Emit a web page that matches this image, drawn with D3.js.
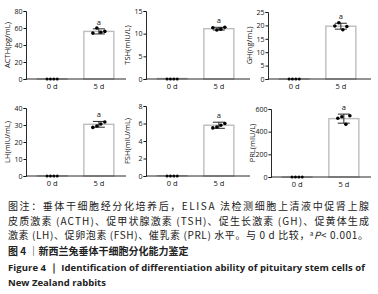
<!DOCTYPE html>
<html>
<head>
<meta charset="utf-8">
<script src="https://cdn.jsdelivr.net/npm/d3@7"></script>
<style>
  body { margin: 0; background: #fff; }
  svg { display: block; }
  .tick text { font-family: "Open Sans", "Noto Sans", sans-serif; font-size: 7px; fill: #111; }
  .ylab, .xl, .sig { font-family: "Open Sans", "Noto Sans", sans-serif; fill: #111; }
  .cap { font-family: "Noto Sans CJK SC", sans-serif; fill: #222; }
</style>
</head>
<body>
<div id="chart"></div>
<script>
// categories + per-panel values
const categories = ["0 d", "5 d"];
const labels = ["ACTH(pg/mL)", "TSH(mIU/L)", "GH(ng/mL)", "LH(mIU/mL)", "FSH(mIU/mL)", "PRL(mIU/L)"];
const yMax = [80, 15, 25, 40, 8, 600];
const yTicks = [[0, 20, 40, 60, 80], [0, 5, 10, 15], [0, 5, 10, 15, 20, 25], [0, 10, 20, 30, 40], [0, 2, 4, 6, 8], [0, 200, 400, 600]];
const means5d = [56, 11.1, 19.7, 30.4, 5.8, 515];
const sd5d = [3.0, 0.3, 1.1, 1.7, 0.35, 40];
const dots5d = [
  [54, 60, 55, 56],
  [11.3, 10.8, 11.0, 11.4],
  [19.8, 21.0, 18.4, 19.6],
  [28.6, 29.4, 30.6, 31.8],
  [5.5, 5.6, 5.8, 6.0],
  [518, 532, 465, 541]
];
const means0d = [0.3, 0.15, 0.1, 0.2, 0.05, 1];

const captionLines = [
  "图注：垂体干细胞经分化培养后，ELISA 法检测细胞上清液中促肾上腺",
  "皮质激素 (ACTH)、促甲状腺激素 (TSH)、促生长激素 (GH)、促黄体生成",
  "激素 (LH)、促卵泡素 (FSH)、催乳素 (PRL) 水平。与 0 d 比较，"
];

const svg = d3.select("#chart").append("svg").attr("width", 378).attr("height", 294);

const panels = [
  { x0: 26, x1: 126, top: 11, bottom: 79 },
  { x0: 146, x1: 250, top: 11, bottom: 79 },
  { x0: 268, x1: 371, top: 12, bottom: 79 },
  { x0: 26, x1: 126, top: 108, bottom: 176 },
  { x0: 146, x1: 250, top: 106, bottom: 176 },
  { x0: 271, x1: 371, top: 109, bottom: 177 }
];

panels.forEach((p, i) => {
  const g = svg.append("g");
  const x = d3.scalePoint().domain(categories).range([p.x0, p.x0 + 99]).padding(0.56);
  const y = d3.scaleLinear().domain([0, yMax[i]]).range([p.bottom, p.top]);
  const bw = 30;

  // 5 d bar
  g.append("rect")
    .attr("x", x("5 d") - bw / 2).attr("width", bw)
    .attr("y", y(means5d[i])).attr("height", y(0) - y(means5d[i]))
    .attr("fill", "#fff").attr("stroke", "#bdbdbd").attr("stroke-width", 1.4);
  // 0 d bar (near zero)
  g.append("rect")
    .attr("x", x("0 d") - bw / 2).attr("width", bw)
    .attr("y", y(means0d[i])).attr("height", Math.max(0.5, y(0) - y(means0d[i])))
    .attr("fill", "#fff").attr("stroke", "#bdbdbd").attr("stroke-width", 1);

  // error bar
  const cx = x("5 d");
  const lo = y(means5d[i] - sd5d[i]), hi = y(means5d[i] + sd5d[i]);
  g.append("line").attr("x1", cx).attr("x2", cx).attr("y1", lo).attr("y2", hi).attr("stroke", "#111").attr("stroke-width", 0.9);
  [lo, hi].forEach(v => g.append("line").attr("x1", cx - 6).attr("x2", cx + 6).attr("y1", v).attr("y2", v).attr("stroke", "#111").attr("stroke-width", 0.9));

  // dots
  const offs = [-6, -2, 2, 6];
  g.selectAll(".d5").data(dots5d[i]).enter().append("circle")
    .attr("cx", (d, j) => cx + offs[j]).attr("cy", d => y(d)).attr("r", 1.8).attr("fill", "#000");
  g.selectAll(".d0").data([0, 0, 0, 0]).enter().append("circle")
    .attr("cx", (d, j) => x("0 d") + offs[j] * 0.85).attr("cy", d => y(d)).attr("r", 1.5).attr("fill", "#000");

  // significance
  g.append("text").attr("class", "sig").attr("x", cx).attr("y", hi - 4)
    .attr("text-anchor", "middle").attr("font-size", 7.5).text("a");

  // axes
  const ya = g.append("g").attr("transform", `translate(${p.x0},0)`)
    .call(d3.axisLeft(y).tickValues(yTicks[i]).tickSize(2.5).tickPadding(1));
  ya.select(".domain").attr("stroke", "#111").attr("stroke-width", 0.9);
  ya.selectAll(".tick line").attr("stroke", "#111");

  g.append("line").attr("x1", p.x0).attr("x2", p.x1).attr("y1", y(0)).attr("y2", y(0))
    .attr("stroke", "#111").attr("stroke-width", 0.9);
  categories.forEach(c => {
    g.append("text").attr("class", "xl").attr("x", x(c)).attr("y", y(0) + 10)
      .attr("text-anchor", "middle").attr("font-size", 7.5).text(c);
  });

  g.append("text").attr("class", "ylab")
    .attr("transform", `translate(${p.x0 - 16},${(p.top + p.bottom) / 2}) rotate(-90)`)
    .attr("text-anchor", "middle").attr("font-size", 7.5).text(labels[i]);
});

// caption
captionLines.forEach((t, k) => {
  const tx = svg.append("text").attr("class", "cap").attr("x", 8).attr("y", 210 + k * 14.5)
    .attr("font-size", 10);
  if (k < 2) {
    tx.attr("textLength", 361).attr("lengthAdjust", "spacing").text(t);
  } else {
    tx.attr("textLength", 360).attr("lengthAdjust", "spacing");
    tx.append("tspan").text(t);
    tx.append("tspan").attr("font-size", 6).attr("dy", -3).text("a");
    tx.append("tspan").attr("font-style", "italic").attr("dy", 3).text("P");
    tx.append("tspan").text("< 0.001。");
  }
});

svg.append("text").attr("class", "cap").attr("x", 8).attr("y", 255)
  .attr("font-size", 10).attr("font-weight", "bold").attr("fill", "#222")
  .text("图 4 ｜新西兰兔垂体干细胞分化能力鉴定");
svg.append("text").attr("x", 8).attr("y", 271)
  .attr("font-family", "'Open Sans', 'Noto Sans', sans-serif").attr("font-size", 9.5)
  .attr("font-weight", "bold").attr("fill", "#222")
  .attr("textLength", 357).attr("lengthAdjust", "spacing")
  .text("Figure 4 ｜ Identification of differentiation ability of pituitary stem cells of");
svg.append("text").attr("x", 8).attr("y", 286)
  .attr("font-family", "'Open Sans', 'Noto Sans', sans-serif").attr("font-size", 9.5)
  .attr("font-weight", "bold").attr("fill", "#222")
  .text("New Zealand rabbits");
</script>
</body>
</html>
